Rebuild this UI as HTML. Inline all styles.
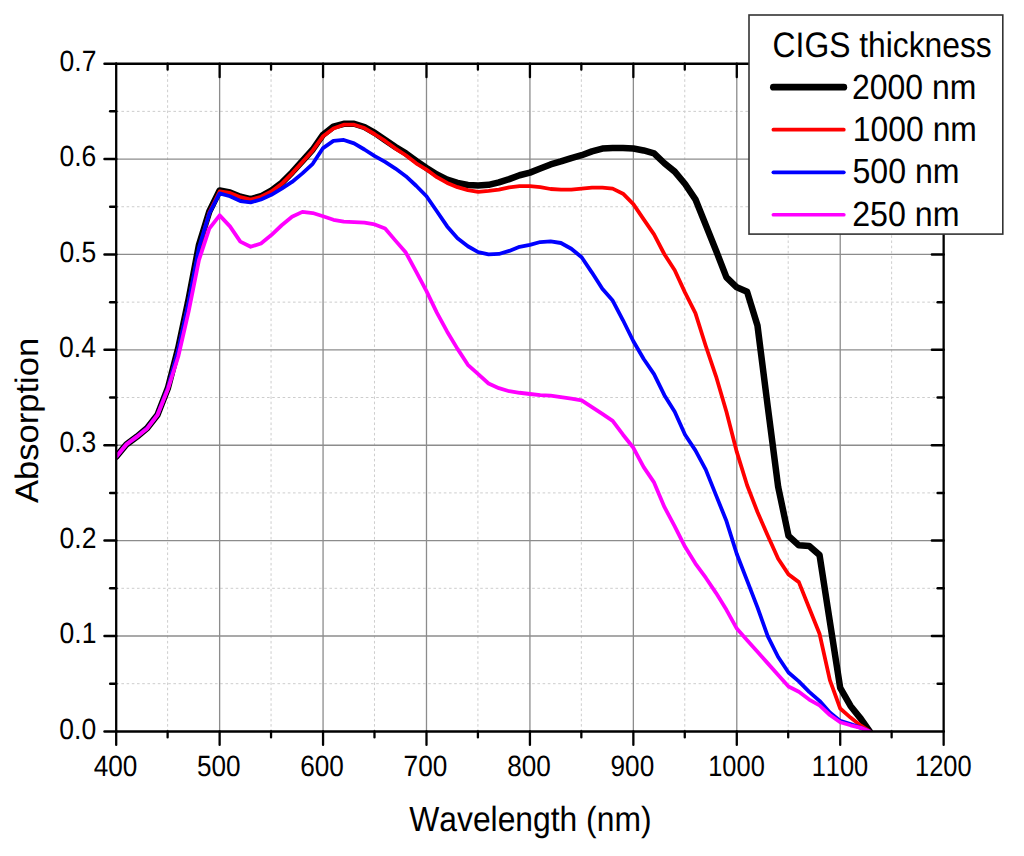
<!DOCTYPE html>
<html><head><meta charset="utf-8"><title>CIGS absorption</title>
<style>html,body{margin:0;padding:0;background:#fff;}body{width:1024px;height:856px;overflow:hidden;}svg{display:block;}text{font-family:"Liberation Sans",sans-serif;fill:#000;font-kerning:none;text-rendering:geometricPrecision;}</style></head><body>
<svg width="1024" height="856" viewBox="0 0 1024 856">
<rect x="0" y="0" width="1024" height="856" fill="#fff"/>
<g stroke="#cdcdcd" stroke-width="1" stroke-dasharray="2.6 2.6"><line x1="167.62" y1="63.66" x2="167.62" y2="731.40"/><line x1="271.05" y1="63.66" x2="271.05" y2="731.40"/><line x1="374.48" y1="63.66" x2="374.48" y2="731.40"/><line x1="477.91" y1="63.66" x2="477.91" y2="731.40"/><line x1="581.34" y1="63.66" x2="581.34" y2="731.40"/><line x1="684.77" y1="63.66" x2="684.77" y2="731.40"/><line x1="788.20" y1="63.66" x2="788.20" y2="731.40"/><line x1="891.63" y1="63.66" x2="891.63" y2="731.40"/><line x1="116.20" y1="683.70" x2="943.65" y2="683.70"/><line x1="116.20" y1="588.31" x2="943.65" y2="588.31"/><line x1="116.20" y1="492.92" x2="943.65" y2="492.92"/><line x1="116.20" y1="397.53" x2="943.65" y2="397.53"/><line x1="116.20" y1="302.14" x2="943.65" y2="302.14"/><line x1="116.20" y1="206.75" x2="943.65" y2="206.75"/><line x1="116.20" y1="111.36" x2="943.65" y2="111.36"/></g>
<g stroke="#8c8c8c" stroke-width="1.3"><line x1="219.63" y1="63.66" x2="219.63" y2="731.40"/><line x1="323.06" y1="63.66" x2="323.06" y2="731.40"/><line x1="426.49" y1="63.66" x2="426.49" y2="731.40"/><line x1="529.93" y1="63.66" x2="529.93" y2="731.40"/><line x1="633.36" y1="63.66" x2="633.36" y2="731.40"/><line x1="736.79" y1="63.66" x2="736.79" y2="731.40"/><line x1="840.22" y1="63.66" x2="840.22" y2="731.40"/><line x1="116.20" y1="636.01" x2="943.65" y2="636.01"/><line x1="116.20" y1="540.62" x2="943.65" y2="540.62"/><line x1="116.20" y1="445.23" x2="943.65" y2="445.23"/><line x1="116.20" y1="349.83" x2="943.65" y2="349.83"/><line x1="116.20" y1="254.44" x2="943.65" y2="254.44"/><line x1="116.20" y1="159.05" x2="943.65" y2="159.05"/></g>
<defs><clipPath id="pc"><rect x="116.20" y="63.66" width="827.45" height="667.74"/></clipPath></defs>
<g fill="none" stroke-linejoin="round" stroke-linecap="round" clip-path="url(#pc)">
<path d="M116.20,456.67 L126.54,444.27 L136.89,436.64 L147.23,428.06 L157.57,414.70 L167.92,387.99 L178.26,347.93 L188.60,299.28 L198.94,244.90 L209.29,211.52 L219.63,190.53 L229.97,192.44 L240.32,196.73 L250.66,199.12 L261.00,196.25 L271.35,190.53 L281.69,182.90 L292.03,172.41 L302.38,160.96 L312.72,149.51 L323.06,134.73 L333.41,126.62 L343.75,123.76 L354.09,123.76 L364.43,127.00 L374.78,132.82 L385.12,139.97 L395.46,146.94 L405.81,153.33 L416.15,160.96 L426.49,167.92 L436.84,174.50 L447.18,179.56 L457.52,182.90 L467.87,185.00 L478.21,185.57 L488.55,184.81 L498.90,182.42 L509.24,179.08 L519.58,175.27 L529.93,172.60 L540.27,168.59 L550.61,164.39 L560.95,161.44 L571.30,158.10 L581.64,155.24 L591.98,151.42 L602.33,148.56 L612.67,148.08 L623.01,148.08 L633.36,148.56 L643.70,150.47 L654.04,153.33 L664.39,163.25 L674.73,171.64 L685.07,184.04 L695.41,199.31 L705.76,224.97 L716.10,250.72 L726.44,277.34 L736.79,287.35 L747.13,291.84 L757.47,325.51 L767.82,407.07 L778.16,486.82 L788.50,535.85 L798.85,545.29 L809.19,546.05 L819.53,555.02 L829.88,621.70 L840.22,687.90 L850.56,705.93 L860.91,718.90 L869.70,731.40" stroke="#000" stroke-width="6.5"/>
<path d="M116.20,456.67 L126.54,444.27 L136.89,436.64 L147.23,428.06 L157.57,414.70 L167.92,387.99 L178.26,349.83 L188.60,303.09 L198.94,250.63 L209.29,212.47 L219.63,191.48 L229.97,192.92 L240.32,197.21 L250.66,199.59 L261.00,196.73 L271.35,191.48 L281.69,183.85 L292.03,173.36 L302.38,161.91 L312.72,150.47 L323.06,136.16 L333.41,128.53 L343.75,124.71 L354.09,124.71 L364.43,128.05 L374.78,134.25 L385.12,140.93 L395.46,148.56 L405.81,155.24 L416.15,163.34 L426.49,169.54 L436.84,177.18 L447.18,182.90 L457.52,187.19 L467.87,190.05 L478.21,191.77 L488.55,190.82 L498.90,189.58 L509.24,187.38 L519.58,186.14 L529.93,186.14 L540.27,187.10 L550.61,189.00 L560.95,189.58 L571.30,189.58 L581.64,188.62 L591.98,187.67 L602.33,187.67 L612.67,188.62 L623.01,193.68 L633.36,204.17 L643.70,219.34 L654.04,234.41 L664.39,254.25 L674.73,270.18 L685.07,292.60 L695.41,313.11 L705.76,346.02 L716.10,376.54 L726.44,411.84 L736.79,451.90 L747.13,485.29 L757.47,512.00 L767.82,535.85 L778.16,558.74 L788.50,574.39 L798.85,582.11 L809.19,607.96 L819.53,633.72 L829.88,680.17 L840.22,708.51 L850.56,717.57 L860.91,725.68 L869.70,731.40" stroke="#ff0000" stroke-width="3.8"/>
<path d="M116.20,456.67 L126.54,444.27 L136.89,436.64 L147.23,428.06 L157.57,414.70 L167.92,387.99 L178.26,349.83 L188.60,302.14 L198.94,247.77 L209.29,213.42 L219.63,193.39 L229.97,196.25 L240.32,201.02 L250.66,202.36 L261.00,199.50 L271.35,194.82 L281.69,188.62 L292.03,181.95 L302.38,173.36 L312.72,163.82 L323.06,148.08 L333.41,140.93 L343.75,139.97 L354.09,143.41 L364.43,149.51 L374.78,156.19 L385.12,161.91 L395.46,168.59 L405.81,176.22 L416.15,185.76 L426.49,196.25 L436.84,211.23 L447.18,226.40 L457.52,238.23 L467.87,246.24 L478.21,252.06 L488.55,254.44 L498.90,253.97 L509.24,250.91 L519.58,246.81 L529.93,244.90 L540.27,242.04 L550.61,241.37 L560.95,243.00 L571.30,248.72 L581.64,257.30 L591.98,272.57 L602.33,288.78 L612.67,300.52 L623.01,320.26 L633.36,341.25 L643.70,358.99 L654.04,374.16 L664.39,395.15 L674.73,411.84 L685.07,434.73 L695.41,450.38 L705.76,469.65 L716.10,495.40 L726.44,521.06 L736.79,553.97 L747.13,580.68 L757.47,607.39 L767.82,636.29 L778.16,656.99 L788.50,672.45 L798.85,681.41 L809.19,691.81 L819.53,700.87 L829.88,712.42 L840.22,720.91 L850.56,724.05 L860.91,727.87 L869.70,731.40" stroke="#0000ff" stroke-width="3.8"/>
<path d="M116.20,456.67 L126.54,444.27 L136.89,436.64 L147.23,428.44 L157.57,414.80 L167.92,389.14 L178.26,356.51 L188.60,311.68 L198.94,260.17 L209.29,228.69 L219.63,215.33 L229.97,226.40 L240.32,241.57 L250.66,246.81 L261.00,243.47 L271.35,235.08 L281.69,225.25 L292.03,216.76 L302.38,211.90 L312.72,213.04 L323.06,216.29 L333.41,219.82 L343.75,221.72 L354.09,222.20 L364.43,222.68 L374.78,224.49 L385.12,228.50 L395.46,240.61 L405.81,252.54 L416.15,271.61 L426.49,291.17 L436.84,312.63 L447.18,331.71 L457.52,348.88 L467.87,364.81 L478.21,374.16 L488.55,383.51 L498.90,388.18 L509.24,391.23 L519.58,392.76 L529.93,394.00 L540.27,395.15 L550.61,395.62 L560.95,397.05 L571.30,398.67 L581.64,400.39 L591.98,407.07 L602.33,413.94 L612.67,420.81 L623.01,434.73 L633.36,447.80 L643.70,467.17 L654.04,482.43 L664.39,506.94 L674.73,526.31 L685.07,546.82 L695.41,563.51 L705.76,577.72 L716.10,593.08 L726.44,609.87 L736.79,628.57 L747.13,640.21 L757.47,651.84 L767.82,663.39 L778.16,675.02 L788.50,686.57 L798.85,691.81 L809.19,699.54 L819.53,705.45 L829.88,714.99 L840.22,722.24 L850.56,725.29 L860.91,727.87 L869.70,731.40" stroke="#ff00ff" stroke-width="3.8"/>
</g>
<g stroke="#000" stroke-width="2.3" stroke-linecap="round"><line x1="116.20" y1="63.66" x2="116.20" y2="731.40"/><line x1="943.65" y1="63.66" x2="943.65" y2="731.40"/><line x1="116.20" y1="731.40" x2="116.20" y2="744.90"/><line x1="167.62" y1="731.40" x2="167.62" y2="737.40"/><line x1="167.62" y1="63.66" x2="167.62" y2="69.66"/><line x1="219.63" y1="731.40" x2="219.63" y2="744.90"/><line x1="219.63" y1="63.66" x2="219.63" y2="77.16"/><line x1="271.05" y1="731.40" x2="271.05" y2="737.40"/><line x1="271.05" y1="63.66" x2="271.05" y2="69.66"/><line x1="323.06" y1="731.40" x2="323.06" y2="744.90"/><line x1="323.06" y1="63.66" x2="323.06" y2="77.16"/><line x1="374.48" y1="731.40" x2="374.48" y2="737.40"/><line x1="374.48" y1="63.66" x2="374.48" y2="69.66"/><line x1="426.49" y1="731.40" x2="426.49" y2="744.90"/><line x1="426.49" y1="63.66" x2="426.49" y2="77.16"/><line x1="477.91" y1="731.40" x2="477.91" y2="737.40"/><line x1="477.91" y1="63.66" x2="477.91" y2="69.66"/><line x1="529.93" y1="731.40" x2="529.93" y2="744.90"/><line x1="529.93" y1="63.66" x2="529.93" y2="77.16"/><line x1="581.34" y1="731.40" x2="581.34" y2="737.40"/><line x1="581.34" y1="63.66" x2="581.34" y2="69.66"/><line x1="633.36" y1="731.40" x2="633.36" y2="744.90"/><line x1="633.36" y1="63.66" x2="633.36" y2="77.16"/><line x1="684.77" y1="731.40" x2="684.77" y2="737.40"/><line x1="684.77" y1="63.66" x2="684.77" y2="69.66"/><line x1="736.79" y1="731.40" x2="736.79" y2="744.90"/><line x1="736.79" y1="63.66" x2="736.79" y2="77.16"/><line x1="788.20" y1="731.40" x2="788.20" y2="737.40"/><line x1="788.20" y1="63.66" x2="788.20" y2="69.66"/><line x1="840.22" y1="731.40" x2="840.22" y2="744.90"/><line x1="840.22" y1="63.66" x2="840.22" y2="77.16"/><line x1="891.63" y1="731.40" x2="891.63" y2="737.40"/><line x1="891.63" y1="63.66" x2="891.63" y2="69.66"/><line x1="943.65" y1="731.40" x2="943.65" y2="744.90"/></g>
<g stroke="#000" stroke-width="2.5" stroke-linecap="round"><line x1="116.20" y1="63.66" x2="943.65" y2="63.66"/><line x1="116.20" y1="731.40" x2="943.65" y2="731.40"/><line x1="116.20" y1="731.40" x2="104.50" y2="731.40"/><line x1="116.20" y1="683.70" x2="110.20" y2="683.70"/><line x1="943.65" y1="683.70" x2="937.65" y2="683.70"/><line x1="116.20" y1="636.01" x2="104.50" y2="636.01"/><line x1="943.65" y1="636.01" x2="931.95" y2="636.01"/><line x1="116.20" y1="588.31" x2="110.20" y2="588.31"/><line x1="943.65" y1="588.31" x2="937.65" y2="588.31"/><line x1="116.20" y1="540.62" x2="104.50" y2="540.62"/><line x1="943.65" y1="540.62" x2="931.95" y2="540.62"/><line x1="116.20" y1="492.92" x2="110.20" y2="492.92"/><line x1="943.65" y1="492.92" x2="937.65" y2="492.92"/><line x1="116.20" y1="445.23" x2="104.50" y2="445.23"/><line x1="943.65" y1="445.23" x2="931.95" y2="445.23"/><line x1="116.20" y1="397.53" x2="110.20" y2="397.53"/><line x1="943.65" y1="397.53" x2="937.65" y2="397.53"/><line x1="116.20" y1="349.83" x2="104.50" y2="349.83"/><line x1="943.65" y1="349.83" x2="931.95" y2="349.83"/><line x1="116.20" y1="302.14" x2="110.20" y2="302.14"/><line x1="943.65" y1="302.14" x2="937.65" y2="302.14"/><line x1="116.20" y1="254.44" x2="104.50" y2="254.44"/><line x1="943.65" y1="254.44" x2="931.95" y2="254.44"/><line x1="116.20" y1="206.75" x2="110.20" y2="206.75"/><line x1="943.65" y1="206.75" x2="937.65" y2="206.75"/><line x1="116.20" y1="159.05" x2="104.50" y2="159.05"/><line x1="943.65" y1="159.05" x2="931.95" y2="159.05"/><line x1="116.20" y1="111.36" x2="110.20" y2="111.36"/><line x1="943.65" y1="111.36" x2="937.65" y2="111.36"/><line x1="116.20" y1="63.66" x2="104.50" y2="63.66"/></g>
<text transform="translate(93.68,775.70) scale(0.8900,1)" font-size="29.40">400</text><text transform="translate(196.89,775.70) scale(0.8900,1)" font-size="29.40">500</text><text transform="translate(300.18,775.70) scale(0.8900,1)" font-size="29.40">600</text><text transform="translate(403.61,775.70) scale(0.8900,1)" font-size="29.40">700</text><text transform="translate(507.14,775.70) scale(0.8900,1)" font-size="29.40">800</text><text transform="translate(610.53,775.70) scale(0.8900,1)" font-size="29.40">900</text><text transform="translate(708.23,775.70) scale(0.8650,1)" font-size="29.40">1000</text><text transform="translate(811.66,775.70) scale(0.8650,1)" font-size="29.40">1100</text><text transform="translate(915.09,775.70) scale(0.8650,1)" font-size="29.40">1200</text><text transform="translate(59.31,738.64) scale(0.9040,1)" font-size="29.30">0.0</text><text transform="translate(59.57,643.25) scale(0.9040,1)" font-size="29.30">0.1</text><text transform="translate(59.61,547.86) scale(0.9040,1)" font-size="29.30">0.2</text><text transform="translate(59.44,452.47) scale(0.9040,1)" font-size="29.30">0.3</text><text transform="translate(59.06,357.07) scale(0.9040,1)" font-size="29.30">0.4</text><text transform="translate(59.39,261.68) scale(0.9040,1)" font-size="29.30">0.5</text><text transform="translate(59.44,166.29) scale(0.9040,1)" font-size="29.30">0.6</text><text transform="translate(59.61,70.90) scale(0.9040,1)" font-size="29.30">0.7</text>
<text transform="translate(409.26,830.90) scale(0.9090,1)" font-size="35.00">Wavelength (nm)</text>
<text transform="translate(37.9,503.07) rotate(-90) scale(1.0633,1)" font-size="32.50">Absorption</text>
<rect x="749.00" y="15.00" width="253.80" height="219.10" fill="#fff" stroke="#333" stroke-width="1.6"/>
<text transform="translate(772.58,56.90) scale(0.8960,1)" font-size="35.50">CIGS thickness</text>
<line x1="773.4" y1="87.20" x2="843.8" y2="87.20" stroke="#000" stroke-width="6.8" stroke-linecap="round"/>
<text transform="translate(851.89,98.55) scale(0.9134,1)" font-size="35.00">2000 nm</text>
<line x1="773.4" y1="129.65" x2="843.8" y2="129.65" stroke="#ff0000" stroke-width="3.7" stroke-linecap="round"/>
<text transform="translate(852.87,140.75) scale(0.9106,1)" font-size="35.00">1000 nm</text>
<line x1="773.4" y1="172.35" x2="843.8" y2="172.35" stroke="#0000ff" stroke-width="3.7" stroke-linecap="round"/>
<text transform="translate(852.52,183.30) scale(0.9166,1)" font-size="35.00">500 nm</text>
<line x1="773.4" y1="214.75" x2="843.8" y2="214.75" stroke="#ff00ff" stroke-width="3.7" stroke-linecap="round"/>
<text transform="translate(852.18,225.85) scale(0.9195,1)" font-size="35.00">250 nm</text>
</svg></body></html>
